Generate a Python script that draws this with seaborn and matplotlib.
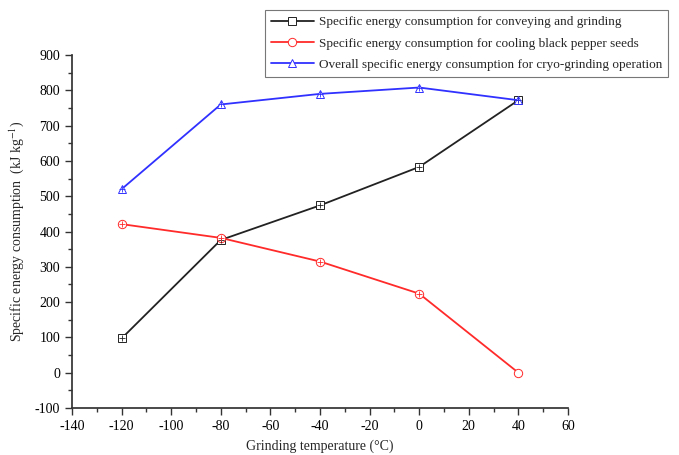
import seaborn as sns
import pandas as pd
import matplotlib.pyplot as plt

temperature = [-120, -80, -40, 0, 40]
conveying_grinding = [97, 376, 474, 583, 772]
cooling_seeds = [421, 382, 315, 224, 0]
overall = [520, 760, 790, 808, 772]

series_names = [
    "Specific energy consumption for conveying and grinding",
    "Specific energy consumption for cooling black pepper seeds",
    "Overall specific energy consumption for cryo-grinding operation",
]
colors = ["#222222", "#ff2a2a", "#3030ff"]
markers = ["s", "o", "^"]

data = pd.DataFrame({
    "temperature": temperature * 3,
    "value": conveying_grinding + cooling_seeds + overall,
    "series": [n for n in series_names for _ in temperature],
})

sns.set_theme(style="ticks")
plt.rcParams["font.family"] = ["Liberation Serif", "DejaVu Serif"]
plt.rcParams["axes.unicode_minus"] = False
plt.rcParams["mathtext.fontset"] = "stix"

f = plt.figure(figsize=[6.79, 4.55], dpi=100)
ax = f.add_axes([0.106, 0.1033, 0.7305, 0.7757])

for name, col, mk in zip(series_names, colors, markers):
    sub = data[data["series"] == name]
    sns.lineplot(x="temperature", y="value", data=sub, color=col, marker=mk,
                 markersize=6, markerfacecolor="white", markeredgecolor=col,
                 markeredgewidth=0.7, linewidth=1.3, label=name, ax=ax)
    # the little crosses drawn inside the markers
    sub_pts = sub.iloc[:-1] if name == series_names[1] else sub
    sns.scatterplot(x="temperature", y="value", data=sub_pts, color=col,
                    marker="+", s=22, linewidth=0.6, legend=False, ax=ax,
                    zorder=4)

ax.set_xlim(-140, 60)
ax.set_ylim(-100, 900)
ax.set_xticks(range(-140, 61, 20))
ax.set_yticks(range(-100, 901, 100))
ax.set_xticks(range(-130, 60, 20), minor=True)
ax.set_yticks(range(-50, 900, 100), minor=True)
ax.tick_params(which="major", length=5, width=1, labelsize=10, colors="#333333",
               labelcolor="black")
ax.tick_params(which="minor", length=3, width=1, colors="#333333")
for s in ["left", "bottom"]:
    ax.spines[s].set_color("#333333")
sns.despine(ax=ax)

ax.set_xlabel("Grinding temperature (°C)", fontsize=10, labelpad=5)
ax.set_ylabel("Specific energy consumption  (kJ kg$^{-1}$)", fontsize=10, labelpad=6)

ax.get_legend().remove()
handles, labels = ax.get_legend_handles_labels()
leg = f.legend(handles, labels, loc="upper right",
               bbox_to_anchor=(668 / 679, 1 - 10 / 455), fontsize=9.5,
               frameon=True, fancybox=False, edgecolor="#555555",
               handlelength=3.3, handletextpad=0.35, borderpad=0.45,
               labelspacing=0.7, borderaxespad=0)
leg.get_frame().set_linewidth(0.8)

f.savefig("out.png", dpi=100)
